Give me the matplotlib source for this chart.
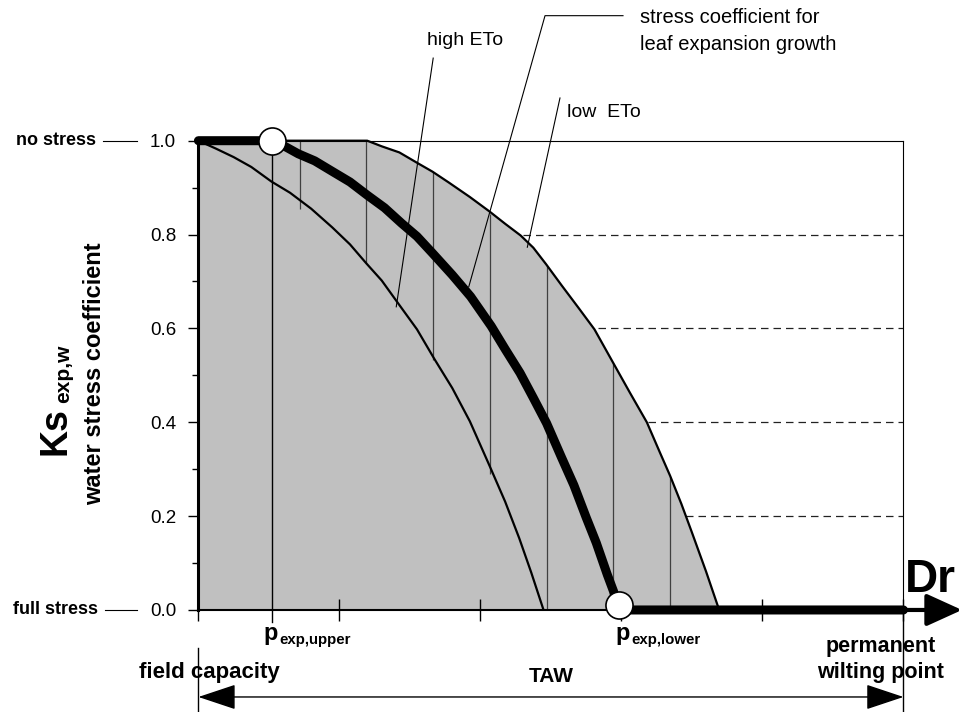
import matplotlib
matplotlib.use('Agg')
import matplotlib.pyplot as plt

plt.rcParams['font.family'] = 'Liberation Sans'

# depletion as fraction of TAW (0 = field capacity, 1 = wilting point)
p_upper = 0.105
p_lower = 0.596

# stress coefficient for leaf expansion growth (thick line)
ks_x = [0.0, 0.105, 0.12, 0.1417, 0.165, 0.1905, 0.215, 0.2394, 0.264,
        0.2882, 0.31, 0.3322, 0.36, 0.386, 0.4152, 0.435, 0.4562, 0.475,
        0.4938, 0.515, 0.5325, 0.55, 0.5643, 0.58, 0.5887, 0.596, 1.0]
ks_y = [1.0, 1.0, 0.990, 0.972, 0.957, 0.934, 0.912, 0.884, 0.857,
        0.824, 0.796, 0.760, 0.714, 0.668, 0.605, 0.556, 0.505, 0.452,
        0.398, 0.325, 0.266, 0.197, 0.143, 0.075, 0.040, 0.0, 0.0]

# high ETo curve
high_x = [0.0, 0.025, 0.05, 0.075, 0.1035, 0.13, 0.16, 0.19, 0.215,
          0.2379, 0.26, 0.283, 0.31, 0.3346, 0.36, 0.385, 0.413, 0.435,
          0.455, 0.472, 0.4895]
high_y = [1.0, 0.983, 0.965, 0.944, 0.913, 0.889, 0.855, 0.815, 0.779,
          0.739, 0.702, 0.654, 0.598, 0.535, 0.473, 0.402, 0.307, 0.231,
          0.153, 0.080, 0.0]

# low ETo curve (upper limit of the shaded band)
low_x = [0.0, 0.2394, 0.26, 0.285, 0.31, 0.332, 0.355, 0.385, 0.413,
         0.435, 0.457, 0.475, 0.493, 0.515, 0.54, 0.5617, 0.5885, 0.612,
         0.636, 0.655, 0.669, 0.685, 0.70, 0.72, 0.7386]
low_y = [1.0, 1.0, 0.988, 0.975, 0.953, 0.934, 0.911, 0.880, 0.849,
         0.823, 0.798, 0.772, 0.737, 0.692, 0.642, 0.598, 0.526, 0.463,
         0.400, 0.334, 0.286, 0.226, 0.165, 0.082, 0.0]

# thin vertical hatch lines inside the band
band_x = [0.1441, 0.2379, 0.3322, 0.4138, 0.4943, 0.5887, 0.6692]
band_top = [1.0, 1.0, 0.934, 0.843, 0.732, 0.526, 0.284]
band_bottom = [0.854, 0.739, 0.533, 0.290, 0.0, 0.0, 0.0]

y_major = [0.0, 0.2, 0.4, 0.6, 0.8, 1.0]
y_minor = [0.1, 0.3, 0.5, 0.7, 0.9]
y_labels = ['0.0', '0.2', '0.4', '0.6', '0.8', '1.0']
x_ticks = [0.0, 0.2, 0.4, 0.6, 0.8, 1.0]
grid_levels = [0.2, 0.4, 0.6, 0.8]

fig = plt.figure(figsize=(9.59, 7.12), dpi=100)
ax = fig.add_axes([0.2069, 0.1433, 0.7352, 0.6591])
ax.set_xlim(0, 1)
ax.set_ylim(0, 1)

ax.hlines(grid_levels, 0, 1, colors='#222222', lw=0.9,
          linestyles=(0, (6, 4)), zorder=0.5)
ax.fill_between(low_x, low_y, 0, color='#c0c0c0', lw=0, zorder=1)
ax.vlines(band_x, band_bottom, band_top, colors='#404040', lw=0.9, zorder=2)
ax.plot([p_upper, p_upper], [1.0, -0.026], color='k', lw=1, zorder=2,
        clip_on=False)
ax.plot(low_x, low_y, color='k', lw=1.6, zorder=3, clip_on=False)
ax.plot(high_x, high_y, color='k', lw=1.6, zorder=3)
ax.plot(ks_x, ks_y, color='k', lw=6.5, solid_capstyle='round',
        solid_joinstyle='round', zorder=4, clip_on=False)
ax.plot([p_upper, p_lower], [1.0, 0.01], 'o', ms=19.5, mfc='white',
        mec='k', mew=1.2, zorder=5, clip_on=False)

# Dr arrow
ax.annotate('', xy=(1.083, 0), xytext=(0.95, 0),
            arrowprops=dict(arrowstyle='-|>,head_length=1.1,head_width=0.5',
                            mutation_scale=20, lw=3, color='k',
                            shrinkA=0, shrinkB=0),
            annotation_clip=False, zorder=4)
ax.text(1.002, 0.038, 'Dr', fontsize=33, fontweight='bold', ha='left',
        va='baseline', clip_on=False)

# spines and ticks
for side in ['top', 'right']:
    ax.spines[side].set_linewidth(0.8)
ax.spines['left'].set_linewidth(2.2)
ax.spines['bottom'].set_linewidth(1.5)
ax.set_yticks(y_major)
ax.set_yticklabels(y_labels)
ax.set_yticks(y_minor, minor=True)
ax.tick_params(axis='y', which='major', direction='out', length=7, width=1,
               labelsize=13.5, pad=9)
ax.tick_params(axis='y', which='minor', direction='out', length=4, width=1)
ax.set_xticks(x_ticks)
ax.set_xticklabels([])
ax.tick_params(axis='x', direction='inout', length=16, width=1)

# y axis side labels
ytr = ax.get_yaxis_transform()
ax.text(-0.145, 1.0, 'no stress', transform=ytr, fontsize=13,
        fontweight='bold', ha='right', va='center')
ax.plot([-0.1355, -0.087], [1.0, 1.0], color='k', lw=0.8, transform=ytr,
        clip_on=False)
ax.text(-0.142, 0.0, 'full stress', transform=ytr, fontsize=13,
        fontweight='bold', ha='right', va='center')
ax.plot([-0.1325, -0.087], [0.0, 0.0], color='k', lw=0.8, transform=ytr,
        clip_on=False)
ax.text(-0.1467, 0.503, 'water stress coefficient', transform=ax.transAxes,
        fontsize=17, fontweight='bold', rotation=90, ha='center', va='center')
ax.text(-0.1892, 0.3303, 'Ks', transform=ax.transAxes, fontsize=27,
        fontweight='bold', rotation=90, rotation_mode='anchor',
        ha='left', va='baseline')
ax.text(-0.1835, 0.441, 'exp,w', transform=ax.transAxes, fontsize=15,
        fontweight='bold', rotation=90, rotation_mode='anchor',
        ha='left', va='baseline')

# x axis labels
ax.text(0.0916, -0.0639, 'p', fontsize=17, fontweight='bold',
        ha='left', va='baseline', clip_on=False)
ax.text(0.1143, -0.0724, 'exp,upper', fontsize=10.8, fontweight='bold',
        ha='left', va='baseline', clip_on=False)
ax.text(0.5909, -0.0639, 'p', fontsize=17, fontweight='bold',
        ha='left', va='baseline', clip_on=False)
ax.text(0.6136, -0.0724, 'exp,lower', fontsize=10.8, fontweight='bold',
        ha='left', va='baseline', clip_on=False)
ax.text(0.015, -0.134, 'field capacity', fontsize=16, fontweight='bold',
        ha='center', va='center', clip_on=False)
ax.text(0.967, -0.077, 'permanent', fontsize=15.5, fontweight='bold',
        ha='center', va='center', clip_on=False)
ax.text(0.967, -0.134, 'wilting point', fontsize=15.5, fontweight='bold',
        ha='center', va='center', clip_on=False)
ax.text(0.5, -0.141, 'TAW', fontsize=15, fontweight='bold',
        ha='center', va='center', clip_on=False)
ax.annotate('', xy=(0, -0.1854), xytext=(1, -0.1854),
            arrowprops=dict(arrowstyle='<|-|>,head_length=1.2,head_width=0.4',
                            mutation_scale=20, lw=1, color='k',
                            shrinkA=0, shrinkB=0),
            annotation_clip=False)
ax.plot([0, 0], [-0.081, -0.24], color='k', lw=1, clip_on=False)
ax.plot([1, 1], [0, -0.24], color='k', lw=1, clip_on=False)

# annotations above the plot
ax.text(0.3243, 1.204, 'high ETo', fontsize=14, ha='left', va='baseline',
        clip_on=False)
ax.plot([0.333, 0.2806], [1.176, 0.646], color='k', lw=0.8, zorder=6,
        clip_on=False)
ax.text(0.5226, 1.0512, 'low  ETo', fontsize=14, ha='left', va='baseline',
        clip_on=False)
ax.plot([0.5128, 0.4665], [1.091, 0.773], color='k', lw=0.8, zorder=6,
        clip_on=False)
ax.text(0.6264, 1.2514, 'stress coefficient for', fontsize=14.5, ha='left',
        va='baseline', clip_on=False)
ax.text(0.6264, 1.1932, 'leaf expansion growth', fontsize=14.5, ha='left',
        va='baseline', clip_on=False)
ax.plot([0.6022, 0.4916, 0.3835], [1.2664, 1.2664, 0.689], color='k',
        lw=0.8, zorder=6, clip_on=False)

fig.savefig('out.png', dpi=100)
